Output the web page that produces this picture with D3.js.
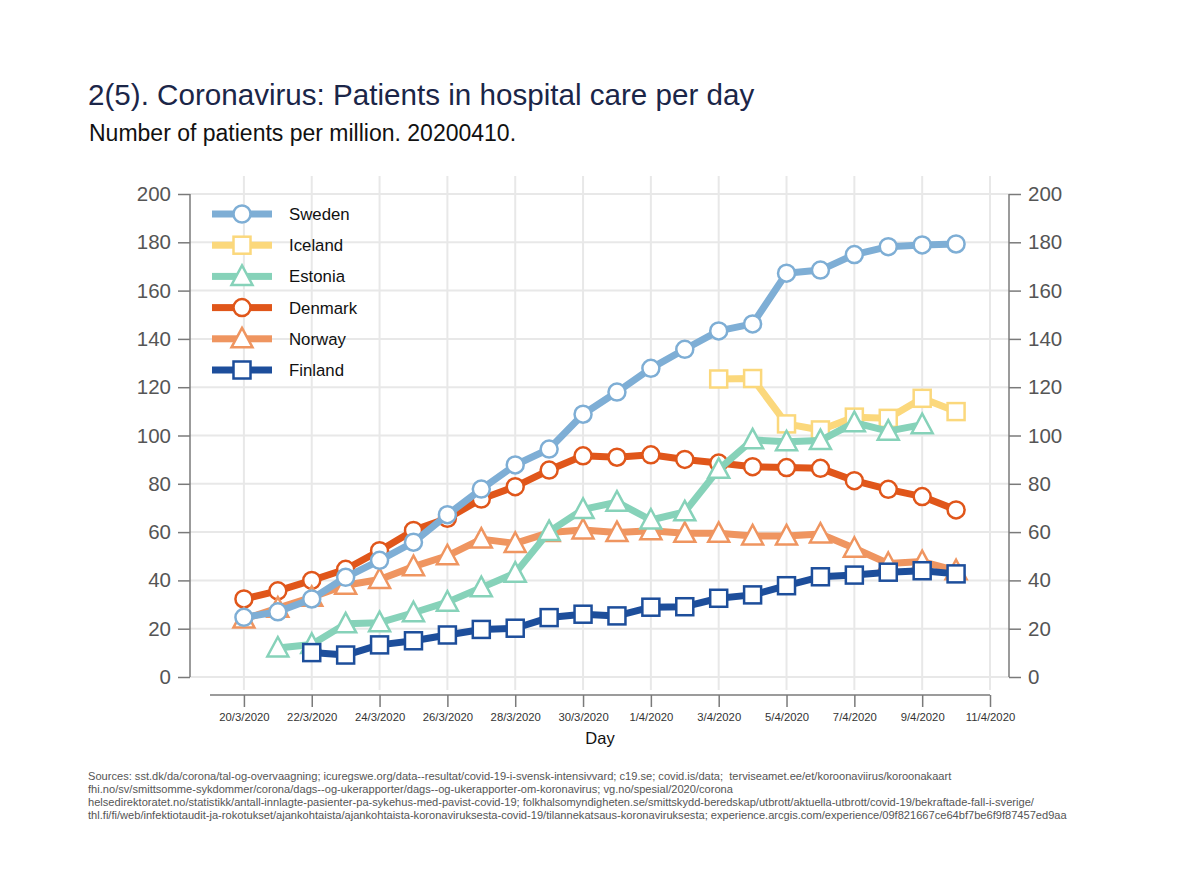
<!DOCTYPE html>
<html><head><meta charset="utf-8">
<script src="https://cdn.jsdelivr.net/npm/d3@7"></script>
<style>body{margin:0;background:#fff;} svg{display:block;font-family:"Liberation Sans",Arial,Helvetica,sans-serif;}</style>
</head><body>
<svg id="c" width="1200" height="873"></svg>
<script>
// ---- data ----
const startDate = "2020-03-20";
const countries = ["Sweden","Iceland","Estonia","Denmark","Norway","Finland"];
// values by day, index 0 = 20/3/2020; null = no data
const sweden  = [24.7,27.0,32.3,41.3,48.3,55.8,67.2,77.8,87.8,94.4,108.8,118.0,127.8,135.7,143.3,146.2,167.2,168.5,174.9,178.2,178.9,179.3];
const iceland = [null,null,null,null,null,null,null,null,null,null,null,null,null,null,123.4,123.6,104.8,102.3,107.6,107.1,115.4,109.9];
const estonia = [null,12.0,13.5,22.0,22.5,26.6,31.0,37.0,43.0,60.2,69.4,72.4,65.0,68.4,86.0,98.2,97.4,97.9,105.3,101.8,104.5,null];
const denmark = [32.3,35.7,40.0,44.6,52.3,60.7,65.7,73.7,78.8,85.7,91.6,91.0,92.0,90.1,88.6,87.1,86.7,86.4,81.3,77.7,74.7,69.2];
const norway  = [24.0,28.5,33.0,38.0,40.4,45.7,50.2,57.1,55.3,59.8,60.9,59.8,60.6,59.5,59.5,58.4,58.4,59.2,53.3,47.0,47.8,44.0];
const finland = [null,null,10.1,9.1,13.3,15.0,17.4,19.7,20.2,24.6,26.0,25.3,28.9,29.1,32.6,34.0,37.8,41.5,42.2,43.4,44.0,42.7];
const yTicks = [0,20,40,60,80,100,120,140,160,180,200];
const xTickLabels = ["20/3/2020","22/3/2020","24/3/2020","26/3/2020","28/3/2020","30/3/2020","1/4/2020","3/4/2020","5/4/2020","7/4/2020","9/4/2020","11/4/2020"];
const title = "2(5). Coronavirus: Patients in hospital care per day";
const subtitle = "Number of patients per million. 20200410.";
const xTitle = "Day";
const sources = [
 "Sources: sst.dk/da/corona/tal-og-overvaagning; icuregswe.org/data--resultat/covid-19-i-svensk-intensivvard; c19.se; covid.is/data;  terviseamet.ee/et/koroonaviirus/koroonakaart",
 "fhi.no/sv/smittsomme-sykdommer/corona/dags--og-ukerapporter/dags--og-ukerapporter-om-koronavirus; vg.no/spesial/2020/corona",
 "helsedirektoratet.no/statistikk/antall-innlagte-pasienter-pa-sykehus-med-pavist-covid-19; folkhalsomyndigheten.se/smittskydd-beredskap/utbrott/aktuella-utbrott/covid-19/bekraftade-fall-i-sverige/",
 "thl.fi/fi/web/infektiotaudit-ja-rokotukset/ajankohtaista/ajankohtaista-koronaviruksesta-covid-19/tilannekatsaus-koronaviruksesta; experience.arcgis.com/experience/09f821667ce64bf7be6f9f87457ed9aa"
];

// ---- styles ----
const style = {
  Sweden:  {color:"#7eaed5", shape:"circle"},
  Iceland: {color:"#fbd87c", shape:"square"},
  Estonia: {color:"#86d2b9", shape:"triangle"},
  Denmark: {color:"#e0561a", shape:"circle"},
  Norway:  {color:"#ef9560", shape:"triangle"},
  Finland: {color:"#1d4e9b", shape:"square"}
};
const seriesData = {Sweden:sweden, Iceland:iceland, Estonia:estonia, Denmark:denmark, Norway:norway, Finland:finland};
const drawOrder = ["Denmark","Norway","Iceland","Estonia","Sweden","Finland"];

const parse = d3.utcParse("%Y-%m-%d");
const t0 = parse(startDate);
const dayDate = i => d3.utcDay.offset(t0, i);
const parseTick = d3.utcParse("%d/%m/%Y");

const svg = d3.select("#c");
const x = d3.scaleUtc().domain([parse("2020-03-19"), parse("2020-04-11")]).range([210, 990]);
const y = d3.scaleLinear().domain([0, 200]).range([677, 194]);

// titles
svg.append("text").attr("x",88).attr("y",105).attr("font-size",29.6).attr("fill","#1b2648").text(title);
svg.append("text").attr("x",89).attr("y",141).attr("font-size",23).attr("fill","#111").text(subtitle);

// gridlines
const xTickDates = xTickLabels.map(s => parseTick(s));
svg.append("g").selectAll("line").data(xTickDates).join("line")
  .attr("x1",d=>x(d)).attr("x2",d=>x(d)).attr("y1",176).attr("y2",690)
  .attr("stroke","#e8e8e8").attr("stroke-width",2);
svg.append("g").selectAll("line").data(yTicks).join("line")
  .attr("x1",190).attr("x2",1009).attr("y1",d=>y(d)).attr("y2",d=>y(d))
  .attr("stroke","#e8e8e8").attr("stroke-width",2);

// axes
const axisColor = "#7a7a7a";
const gL = svg.append("g").attr("transform","translate(190,0)")
  .call(d3.axisLeft(y).tickValues(yTicks).tickSize(12).tickPadding(7));
const gR = svg.append("g").attr("transform","translate(1009,0)")
  .call(d3.axisRight(y).tickValues(yTicks).tickSize(12).tickPadding(7));
[gL,gR].forEach(g=>{
  g.select(".domain").attr("stroke",axisColor).attr("stroke-width",1.5).attr("d","M0,677V194");
  g.selectAll(".tick line").attr("stroke",axisColor).attr("stroke-width",1.5);
  g.selectAll(".tick text").attr("font-size",20.5).attr("fill","#555").attr("font-family","Liberation Sans, Arial, sans-serif");
});
const gX = svg.append("g").attr("transform","translate(0,695)")
  .call(d3.axisBottom(x).tickValues(xTickDates).tickSize(12).tickPadding(6)
    .tickFormat((d,i)=>xTickLabels[i]));
gX.select(".domain").attr("stroke",axisColor).attr("stroke-width",1.5).attr("d","M210,0H990");
gX.selectAll(".tick line").attr("stroke",axisColor).attr("stroke-width",1.5);
gX.selectAll(".tick text").attr("font-size",11.3).attr("fill","#333").attr("font-family","Liberation Sans, Arial, sans-serif");
svg.append("text").attr("x",600).attr("y",744).attr("text-anchor","middle").attr("font-size",16.5).attr("fill","#111").text(xTitle);

// markers
function marker(g, shape, color, cx, cy){
  if(shape==="circle"){
    g.append("circle").attr("cx",cx).attr("cy",cy).attr("r",8.5)
      .attr("fill","#fff").attr("stroke",color).attr("stroke-width",2.5);
  } else if(shape==="square"){
    g.append("rect").attr("x",cx-8.5).attr("y",cy-8.5).attr("width",17).attr("height",17)
      .attr("fill","#fff").attr("stroke",color).attr("stroke-width",2.5);
  } else {
    const h=9.5;
    g.append("path").attr("d",`M${cx},${cy-h-1.5}L${cx+h+1},${cy+h-1}L${cx-h-1},${cy+h-1}Z`)
      .attr("fill","#fff").attr("stroke",color).attr("stroke-width",2.5).attr("stroke-linejoin","miter");
  }
}

// series
const line = d3.line().defined(d=>d.v!=null).x(d=>x(d.date)).y(d=>y(d.v));
drawOrder.forEach(name=>{
  const st = style[name];
  const pts = seriesData[name].map((v,i)=>({date:dayDate(i), v}));
  const g = svg.append("g");
  g.append("path").datum(pts).attr("d",line).attr("fill","none")
    .attr("stroke",st.color).attr("stroke-width",7).attr("stroke-linejoin","round");
  pts.filter(p=>p.v!=null).forEach(p=>marker(g, st.shape, st.color, x(p.date), y(p.v)));
});

// legend
const lg = svg.append("g");
countries.forEach((name,i)=>{
  const st = style[name];
  const ly = 214 + i*31.2;
  lg.append("rect").attr("x",212).attr("y",ly-3.5).attr("width",60).attr("height",7).attr("fill",st.color);
  marker(lg, st.shape, st.color, 242, ly);
  lg.append("text").attr("x",289).attr("y",ly+6).attr("font-size",16.8).attr("fill","#111").text(name);
});

// sources
sources.forEach((s,i)=>{
  svg.append("text").attr("x",88).attr("y",780+i*13).attr("font-size",11.1)
    .attr("fill","#555").style("white-space","pre").text(s);
});
</script>
</body></html>
